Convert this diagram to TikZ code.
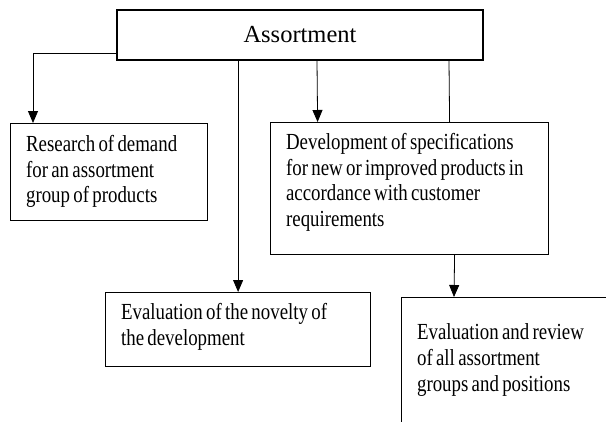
\documentclass[tikz,border=0pt]{standalone}
\usepackage{fontspec}
\setmainfont{Liberation Serif}
\newfontfamily\narrowserif[FakeStretch=0.82, WordSpace=0.7]{Liberation Serif}
\usetikzlibrary{arrows.meta}

\begin{document}
\begin{tikzpicture}[
  x=1pt, y=-1pt,
  topbox/.style={draw, line width=1.2pt, minimum width=366pt, minimum height=50pt,
                 inner sep=0pt, font=\fontsize{24.5}{28}\selectfont},
  itembox/.style={draw, line width=1.2pt, anchor=north west, align=flush left,
                  inner xsep=15.5pt, inner ysep=0pt,
                  font=\narrowserif\fontsize{23}{25.8}\selectfont},
  arr/.style={-{Triangle[length=12pt, width=10pt]}, line width=0.8pt},
  link/.style={line width=0.8pt},
]
\clip (0,0) rectangle (606,421);

% Top node
\node[topbox] (assort) at (300,35) {Assortment};

% Item boxes
\node[itembox, text width=166pt, text height=27.7pt, text depth=69.3pt] (research) at (10,123)
  {Research of demand\\for an assortment\\group of products};
\node[itembox, text width=247pt, text height=26.7pt, text depth=105.3pt] (dev) at (270,122)
  {Development of specifications\\for new or improved products in\\accordance with customer\\requirements};
\node[itembox, text width=234pt, text height=26.7pt, text depth=47.3pt] (novelty) at (105,292)
  {Evaluation of the novelty of\\the development};
\node[itembox, text width=188pt, text height=42pt, text depth=101pt] (review) at (401,297)
  {Evaluation and review\\of all assortment\\groups and positions};

% Connectors
\draw[arr] ([yshift=7pt]assort.south west) -| ([xshift=23pt]research.north west);
\draw[arr] (assort.south -| novelty.north) -- (novelty.north);
\draw[arr] ([xshift=17pt]assort.south) -- ([xshift=-92pt]dev.north);
\draw[link] ([xshift=149pt]assort.south) -- ([xshift=40pt]dev.north);
\draw[arr] ([xshift=45pt]dev.south) -- ([xshift=53pt]review.north west);

\end{tikzpicture}
\end{document}
